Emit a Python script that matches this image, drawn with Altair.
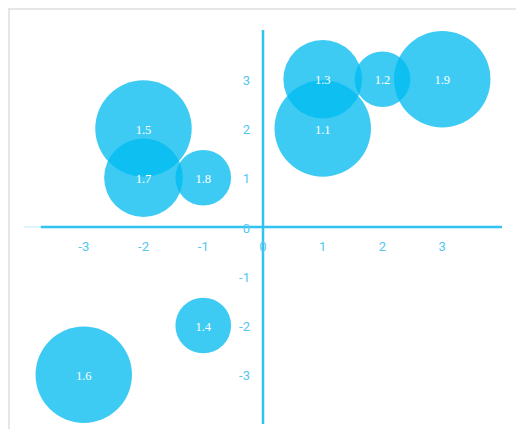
import altair as alt
import pandas as pd

# bubble data
xs = [1, 2, 3, 1, -2, -2, -1, -1, -3]
ys = [3, 3, 3, 2, 2, 1, 1, -2, -3]
labels = ["1.3", "1.2", "1.9", "1.1", "1.5", "1.7", "1.8", "1.4", "1.6"]
sizes = [2, 1, 3, 3, 3, 2, 1, 1, 3]

# axis ticks
x_ticks = [-3, -2, -1, 0, 1, 2, 3]
y_ticks = [-3, -2, -1, 0, 1, 2, 3]

bubbles = pd.DataFrame({"x": xs, "y": ys, "label": labels, "size": sizes})
xt = pd.DataFrame({"x": x_ticks, "y": [0] * len(x_ticks), "t": [str(v) for v in x_ticks]})
yt = pd.DataFrame({"x": [0] * len(y_ticks), "y": y_ticks, "t": [str(v) for v in y_ticks]})
xline = pd.DataFrame({"x": [-3.72], "x2": [4], "y": [0]})
xfaint = pd.DataFrame({"x": [-4], "x2": [-3.72], "y": [0]})
yline = pd.DataFrame({"x": [0], "y": [-4], "y2": [4]})
one = pd.DataFrame({"a": [0]})

xs_scale = alt.Scale(domain=[-4, 4], nice=False, zero=False)
ys_scale = alt.Scale(domain=[-4, 4], nice=False, zero=False)

AXIS_COL = "#33c3f0"
LABEL_COL = "#55c6f0"

X = lambda: alt.X("x:Q", scale=xs_scale, axis=None)
Y = lambda: alt.Y("y:Q", scale=ys_scale, axis=None)

frame_top = alt.Chart(one).mark_rule(color="#e6e6e6", strokeWidth=2).encode(
    x=alt.value(-16), x2=alt.value(500), y=alt.value(-21)
)
frame_left = alt.Chart(one).mark_rule(color="#e6e6e6", strokeWidth=2).encode(
    x=alt.value(-15), y=alt.value(-22), y2=alt.value(400)
)

faint = alt.Chart(xfaint).mark_rule(color="#bfeafa", strokeWidth=1).encode(
    x=X(), x2="x2:Q", y=Y()
)
xaxis = alt.Chart(xline).mark_rule(color=AXIS_COL, strokeWidth=2.5).encode(
    x=X(), x2="x2:Q", y=Y()
)
yaxis = alt.Chart(yline).mark_rule(color=AXIS_COL, strokeWidth=2.5).encode(
    x=X(), y=Y(), y2="y2:Q"
)

xlab = alt.Chart(xt).mark_text(
    color=LABEL_COL, font="Roboto", fontSize=13, dy=20, align="center", baseline="middle"
).encode(x=X(), y=Y(), text="t:N")
ylab = alt.Chart(yt).mark_text(
    color=LABEL_COL, font="Roboto", fontSize=13, dx=-13, dy=1.5, align="right", baseline="middle"
).encode(x=X(), y=Y(), text="t:N")

circles = alt.Chart(bubbles).mark_circle(color="#00bbf0", opacity=0.76).encode(
    x=X(),
    y=Y(),
    size=alt.Size("size:Q", scale=alt.Scale(domain=[0, 3], range=[0, 9300]), legend=None),
)
blab = alt.Chart(bubbles).mark_text(
    color="white", font="Liberation Serif", fontSize=12.5, align="center", baseline="middle", dy=1
).encode(x=X(), y=Y(), text="label:N")

chart = alt.layer(
    frame_top, frame_left, faint, xaxis, yaxis, xlab, ylab, circles, blab
).properties(
    width=478,
    height=394,
    autosize=alt.AutoSizeParams(type="none"),
    padding={"left": 16, "top": 22, "right": 14, "bottom": 5},
).configure_view(stroke=None)

chart.save("out.html", embed_options={"renderer": "svg", "actions": False})
